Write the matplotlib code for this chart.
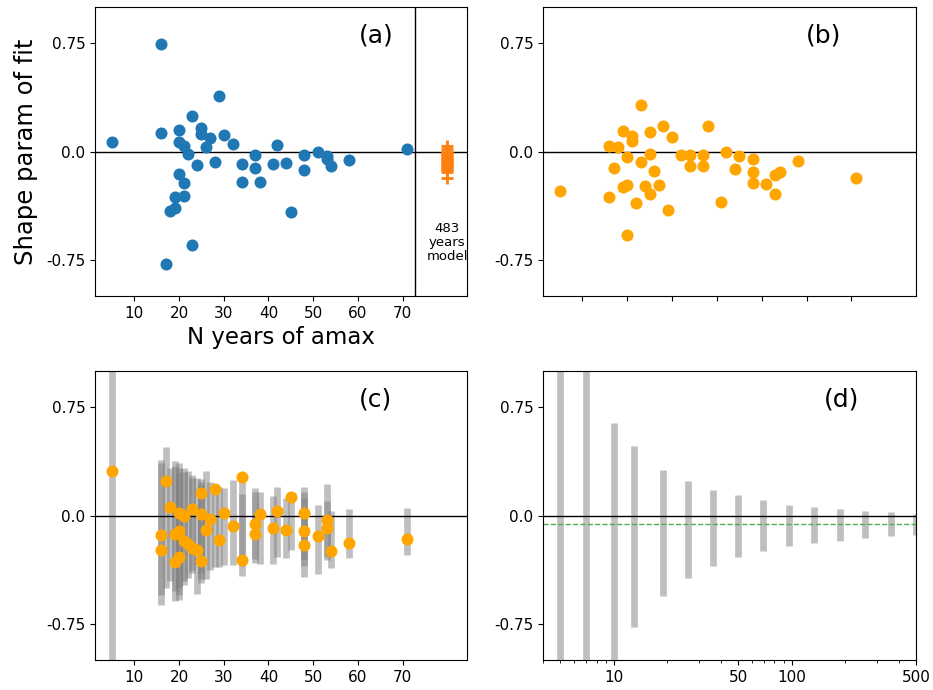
import matplotlib
matplotlib.use("Agg")
import matplotlib.pyplot as plt
import numpy as np

# ---------------- data ----------------
# Panel (a): observed shape parameters vs record length
a_years = [5, 16, 16, 17, 18, 19, 19, 20, 20, 20, 21, 21, 21, 22, 23, 23, 24, 25, 25,
           26, 27, 28, 29, 30, 32, 34, 34, 37, 37, 38, 41, 42, 44, 45, 48, 48, 51, 53,
           53, 54, 58, 71]
a_shape = [0.069, 0.745, 0.131, -0.78, -0.413, -0.394, -0.312, 0.149, 0.069, -0.158,
           0.041, -0.216, -0.31, -0.016, 0.248, -0.649, -0.096, 0.161, 0.119, 0.034,
           0.096, -0.073, 0.385, 0.117, 0.053, -0.087, -0.209, -0.023, -0.115, -0.211,
           -0.087, 0.048, -0.080, -0.417, -0.023, -0.126, -0.005, -0.034, -0.053,
           -0.101, -0.062, 0.016]
model_x = 80
model_shape = [0.035, 0.015, 0.0, -0.01, -0.02, -0.03, -0.04, -0.05, -0.055, -0.06,
               -0.065, -0.07, -0.08, -0.09, -0.10, -0.11, -0.12, -0.13, -0.14, -0.18]
model_sep = 72.7

# Panel (b)
b_years = [5, 16, 16, 17, 18, 19, 19, 20, 20, 20, 21, 21, 22, 23, 23, 24, 25, 25, 25,
           26, 27, 28, 29, 30, 32, 34, 34, 37, 37, 38, 41, 42, 44, 45, 48, 48, 48, 51,
           53, 53, 54, 58, 71]
b_shape = [-0.272, 0.039, -0.316, -0.115, 0.032, 0.145, -0.247, -0.235, -0.037, -0.577,
           0.108, 0.072, -0.355, 0.323, -0.072, -0.240, 0.134, -0.018, -0.295, -0.134,
           -0.235, 0.178, -0.404, 0.099, -0.023, -0.023, -0.097, -0.023, -0.097, 0.178,
           -0.348, 0.0, -0.12, -0.028, -0.053, -0.145, -0.219, -0.224, -0.162, -0.295,
           -0.145, -0.069, -0.182]

# Panel (c): points with model ranges
c_years = [5, 16, 16, 17, 18, 19, 19, 20, 20, 20, 21, 21, 22, 23, 23, 24, 25, 25, 25,
           26, 27, 28, 29, 30, 32, 34, 34, 37, 37, 38, 41, 42, 44, 45, 48, 48, 48, 51,
           53, 53, 54, 58, 71]
c_shape = [0.31, -0.138, -0.236, 0.236, 0.057, -0.131, -0.319, 0.016, -0.11, -0.289,
           -0.002, -0.179, -0.195, 0.046, -0.222, -0.241, 0.156, 0.007, -0.314, -0.103,
           -0.025, 0.183, -0.170, 0.018, -0.073, 0.264, -0.310, -0.057, -0.126, 0.007,
           -0.085, 0.028, -0.099, 0.128, 0.016, -0.108, -0.204, -0.142, -0.032, -0.089,
           -0.248, -0.188, -0.161]
c_low = [-1.6, -0.62, -0.55, -0.50, -0.45, -0.59, -0.52, -0.585, -0.55, -0.50,
         -0.48, -0.45, -0.43, -0.40, -0.38, -0.546, -0.47, -0.44, -0.40, -0.436,
         -0.378, -0.356, -0.356, -0.344, -0.344, -0.42, -0.35, -0.328, -0.30, -0.333,
         -0.337, -0.287, -0.294, -0.241, -0.424, -0.30, -0.35, -0.406, -0.305, -0.29,
         -0.365, -0.291, -0.275]
c_high = [1.6, 0.385, 0.36, 0.477, 0.33, 0.374, 0.34, 0.362, 0.33, 0.30,
          0.326, 0.30, 0.31, 0.28, 0.26, 0.257, 0.252, 0.23, 0.21, 0.305,
          0.234, 0.206, 0.20, 0.188, 0.248, 0.248, 0.15, 0.19, 0.16, 0.165,
          0.135, 0.195, 0.119, 0.161, 0.2, 0.12, 0.16, 0.071, 0.216, 0.10,
          0.034, 0.044, 0.053]

# Panel (d): ranges vs record length (log axis)
d_years = [5, 7, 10, 13, 19, 26, 36, 50, 69, 97, 134, 187, 260, 361, 500]
d_low = [-1.6, -1.3, -1.05, -0.775, -0.556, -0.433, -0.347, -0.285, -0.243, -0.211,
         -0.192, -0.174, -0.155, -0.144, -0.134]
d_high = [1.6, 1.3, 0.637, 0.484, 0.315, 0.241, 0.178, 0.141, 0.109, 0.076,
          0.060, 0.046, 0.032, 0.023, 0.012]
d_ref = -0.058

yticks = [-0.75, 0.0, 0.75]
ytick_labels = ["-0.75", "0.0", "0.75"]
xticks_lin = [10, 20, 30, 40, 50, 60, 70]
xticks_log = [10, 50, 100, 500]

# ---------------- figure ----------------
plt.rcParams['font.family'] = ['DejaVu Sans']
fig = plt.figure(figsize=(9.33, 6.9), dpi=100)
W, H = 933, 690

def add_ax(l, t, r, b):
    return fig.add_axes([l / W, 1 - b / H, (r - l) / W, (b - t) / H])

axa = add_ax(95, 7, 467, 296)
axb = add_ax(543, 7, 916, 296)
axc = add_ax(95, 371, 467, 660)
axd = add_ax(543, 371, 916, 660)

BLUE = '#1f77b4'
ORANGE = 'orange'
MODEL = '#ff7f0e'
S = 75

for ax in (axa, axb, axc, axd):
    ax.set_ylim(-1, 1)
    ax.set_yticks(yticks)
    ax.set_yticklabels(ytick_labels)
    ax.tick_params(labelsize=11)
    ax.axhline(0, color='black', lw=1, zorder=2)

for ax in (axa, axb, axc):
    ax.set_xlim(1.2, 84.4)
    ax.set_xticks(xticks_lin)

# (a)
axa.scatter(a_years, a_shape, s=S, color=BLUE, linewidths=0, zorder=3)
axa.plot([model_x] * len(model_shape), model_shape, linestyle='none', marker='+',
         color=MODEL, ms=8, mew=2, zorder=3)
axa.axvline(model_sep, color='black', lw=1)
axa.text(model_x, -0.63, "483\nyears\nmodel", ha='center', va='center', fontsize=9.5,
         linespacing=1.1)
axa.set_xlabel("N years of amax", fontsize=16.5, labelpad=4)
axa.set_ylabel("Shape param of fit", fontsize=17.5, labelpad=6)
axa.text(0.755, 0.90, "(a)", transform=axa.transAxes, ha='center', va='center',
         fontsize=18)

# (b)
axb.scatter(b_years, b_shape, s=S, color=ORANGE, linewidths=0, zorder=3)
axb.set_xticklabels([])
axb.text(0.753, 0.90, "(b)", transform=axb.transAxes, ha='center', va='center',
         fontsize=18)

# (c)
axc.vlines(c_years, c_low, c_high, color='grey', alpha=0.5, lw=4.8, zorder=1)
axc.scatter(c_years, c_shape, s=S, color=ORANGE, linewidths=0, zorder=3)
axc.text(0.755, 0.90, "(c)", transform=axc.transAxes, ha='center', va='center',
         fontsize=18)

# (d)
axd.set_xscale('log')
axd.set_xlim(4, 500)
axd.vlines(d_years, d_low, d_high, color='grey', alpha=0.5, lw=4.8, zorder=1)
axd.axhline(d_ref, color='#4caf50', lw=1, ls='--', zorder=2)
axd.set_xticks(xticks_log)
axd.set_xticklabels([str(v) for v in xticks_log])
axd.text(0.80, 0.90, "(d)", transform=axd.transAxes, ha='center', va='center',
         fontsize=18)

fig.savefig("out.png", dpi=100)
